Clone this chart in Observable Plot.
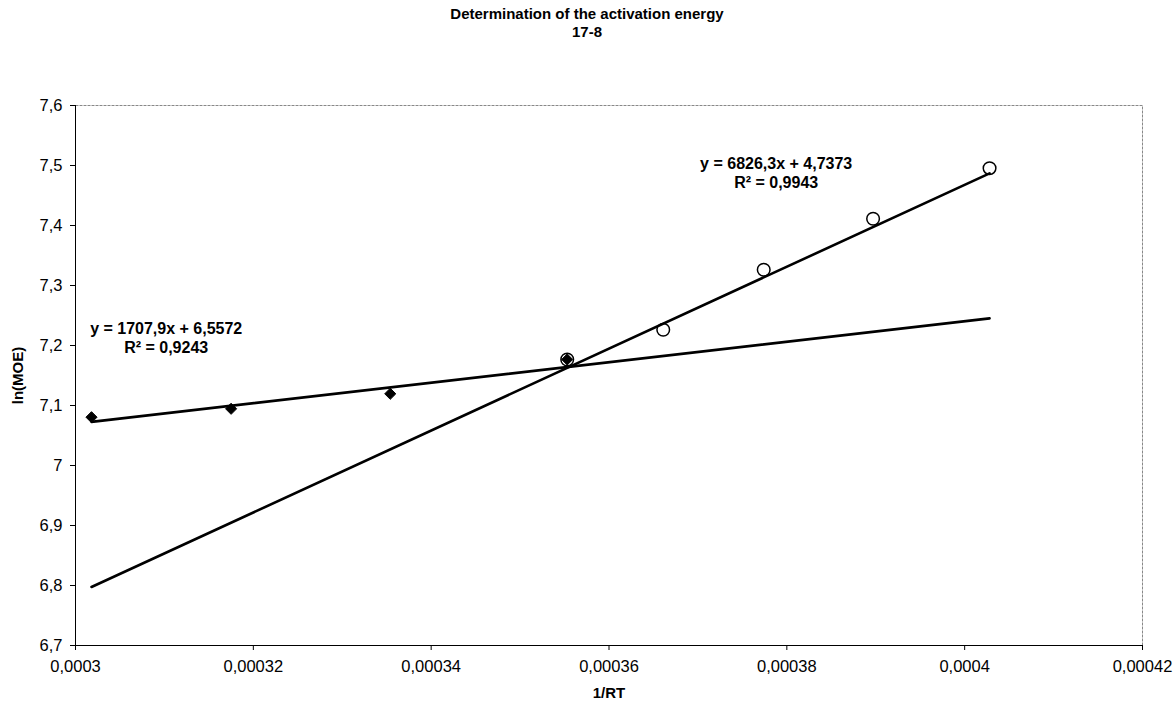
<!DOCTYPE html>
<html><head><meta charset="utf-8">
<script src="https://cdn.jsdelivr.net/npm/d3@7"></script>
<script src="https://cdn.jsdelivr.net/npm/@observablehq/plot@0.6"></script>
<style>
body{margin:0;background:#fff;font-family:"Liberation Sans",Arial,sans-serif;}
#wrap{position:relative;width:1174px;height:702px;}
#title{position:absolute;top:5px;left:0;width:1174px;text-align:center;font-weight:bold;font-size:15px;line-height:18px;color:#000;}
#chart{position:absolute;top:0;left:0;}
</style></head><body>
<div id="wrap"><div id="chart"></div><div id="title">Determination of the activation energy<br>17-8</div></div>
<script>
// Series 1 (filled diamonds)
const s1X = [0.0003018, 0.0003175, 0.0003354, 0.0003553];
const s1Y = [7.0805, 7.0945, 7.1195, 7.1767];
// Series 2 (open circles)
const s2X = [0.0003553, 0.0003661, 0.0003774, 0.0003897, 0.0004028];
const s2Y = [7.1767, 7.2262, 7.3262, 7.4112, 7.4955];
// Linear trend lines (end points)
const t1X = [0.0003018, 0.0004028];
const t1Y = [7.0727, 7.2452];
const t2X = [0.0003018, 0.0004028];
const t2Y = [6.7975, 7.4869];
// Trend line labels
const labelText = ["y = 1707,9x + 6,5572\nR² = 0,9243", "y = 6826,3x + 4,7373\nR² = 0,9943"];
const labelX = [0.0003102, 0.0003788];
const labelY = [7.2142, 7.4892];
// Ticks
const xTicks = [0.0003, 0.00032, 0.00034, 0.00036, 0.00038, 0.0004, 0.00042];
const yTicks = [6.7, 6.8, 6.9, 7.0, 7.1, 7.2, 7.3, 7.4, 7.5, 7.6];

const zip = (xs, ys) => xs.map((x, i) => ({x, y: ys[i]}));
const s1 = zip(s1X, s1Y), s2 = zip(s2X, s2Y), t1 = zip(t1X, t1Y), t2 = zip(t2X, t2Y);
const labels = labelText.map((t, i) => ({t, x: labelX[i], y: labelY[i]}));
const fmt = d => String(+d.toFixed(6)).replace(".", ",");

const plot = Plot.plot({
  width: 1174, height: 702,
  marginLeft: 75, marginRight: 32, marginTop: 105, marginBottom: 57,
  style: {fontFamily: "'Liberation Sans', Arial, sans-serif", fontSize: "16.5px", background: "white", color: "black"},
  x: {domain: [0.0003, 0.00042]},
  y: {domain: [6.7, 7.6]},
  marks: [
    Plot.frame({stroke: "#888", strokeDasharray: "3,1"}),
    Plot.ruleX([0.0003], {stroke: "black"}),
    Plot.ruleY([6.7], {stroke: "black"}),
    Plot.axisX({ticks: xTicks, tickFormat: fmt, tickSize: 5, tickPadding: 10, label: null, fontSize: 16.5}),
    Plot.axisY({ticks: yTicks, tickFormat: fmt, tickSize: 5, tickPadding: 8, label: null, fontSize: 16.5}),
    Plot.line(t1, {x: "x", y: "y", stroke: "black", strokeWidth: 2.6}),
    Plot.line(t2, {x: "x", y: "y", stroke: "black", strokeWidth: 2.6}),
    Plot.dot(s1, {x: "x", y: "y", symbol: "diamond2", fill: "black", stroke: "black", strokeWidth: 1, r: 5}),
    Plot.dot(s2, {x: "x", y: "y", symbol: "circle", stroke: "black", fill: "none", r: 6.3, strokeWidth: 1.5}),
    Plot.text(labels, {x: "x", y: "y", text: "t", fontWeight: "bold", fontSize: 16, lineHeight: 1.2, lineAnchor: "middle", textAnchor: "middle"}),
    Plot.text(["ln(MOE)"], {text: d => d, frameAnchor: "left", dx: -57, rotate: -90, fontWeight: "bold", fontSize: 15, textAnchor: "middle", lineAnchor: "middle"}),
    Plot.text(["1/RT"], {text: d => d, frameAnchor: "bottom", dy: 48, fontWeight: "bold", fontSize: 15, textAnchor: "middle", lineAnchor: "middle"})
  ]
});
document.getElementById("chart").appendChild(plot);
</script>
</body></html>
